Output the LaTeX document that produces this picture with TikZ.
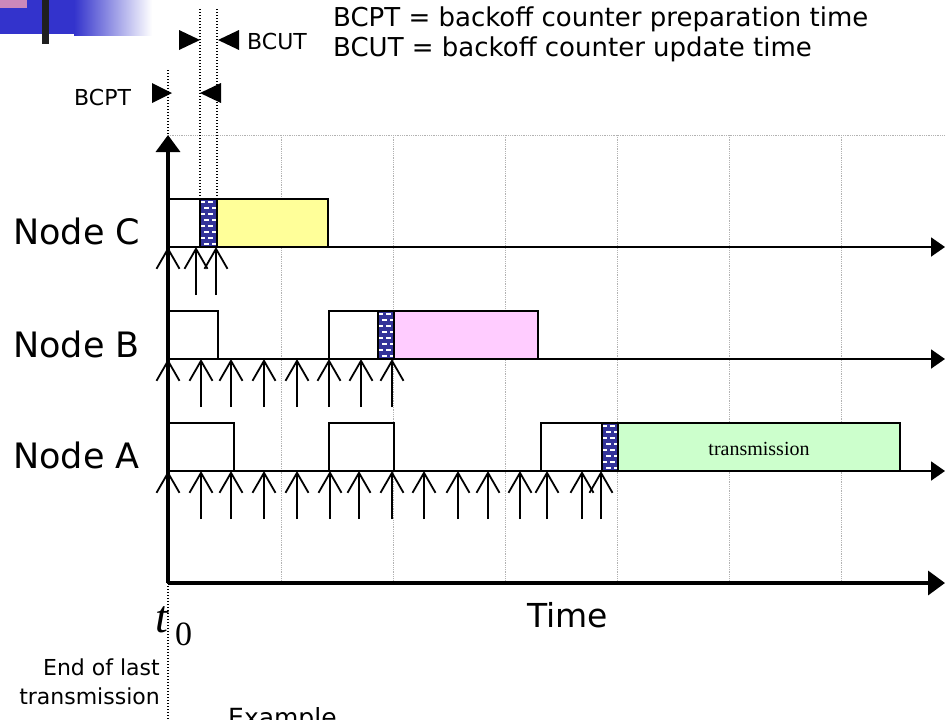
\documentclass[tikz,border=0pt]{standalone}
\usepackage{fontspec}
\setmainfont{DejaVu Sans}
\newfontfamily\serifface{Liberation Serif}
\usetikzlibrary{arrows.meta}
\definecolor{hatchblue}{HTML}{333399}
\definecolor{boxyellow}{HTML}{FFFF99}
\definecolor{boxpink}{HTML}{FFCCFF}
\definecolor{boxgreen}{HTML}{CCFFCC}
\definecolor{titleblue}{HTML}{3333CC}
\definecolor{titlepink}{HTML}{CC88BB}
\newcommand{\hatchrect}[4]{%
  \fill[hatchblue] (#1,#2) rectangle (#3,#4);
  \begin{scope}
    \clip (#1,#2) rectangle (#3,#4);
    \foreach \r in {0,...,8}{%
      \pgfmathsetmacro\ph{mod(\r,2)*4}
      \draw[white, line width=1.7pt, dash pattern=on 5pt off 3pt, dash phase=\ph pt]
        (#1,#2+3+\r*6) -- (#3,#2+3+\r*6);
    }
  \end{scope}
  \draw[line width=1.8pt] (#1,#2) rectangle (#3,#4);
}
\begin{document}
\begin{tikzpicture}[x=1pt,y=-1pt,
  gridline/.style={gray!60, line width=0.8pt, densely dotted},
  guide/.style={black, line width=1.4pt, dash pattern=on 1.4pt off 1.6pt},
  timeline/.style={line width=2pt, -{Triangle[length=14pt,width=19pt]}},
  mainaxis/.style={line width=3.6pt, -{Triangle[length=17pt,width=24pt]}},
  upmark/.style={line width=1.8pt, -{Straight Barb[length=20pt,width=23pt,line width=1.8pt]}},
  slot/.style={draw=black, line width=1.8pt},
  marker/.style={fill=black},
  lbl/.style={font=\fontsize{35}{40}\selectfont, inner sep=0pt, anchor=base west},
  small/.style={font=\fontsize{22}{26}\selectfont, inner sep=0pt, anchor=base west},
  header/.style={font=\fontsize{26}{30}\selectfont, inner sep=0pt, anchor=base west},
]
\useasboundingbox (0,0) rectangle (945,720);

% title decoration
\fill[titleblue] (0,0) rectangle (74,34);
\shade[left color=titleblue, right color=white] (74,0) rectangle (152,35);
\fill[titlepink] (0,0) rectangle (27,8);
\fill[black!88] (42,0) rectangle (49,44);

% grid
\coordinate (O) at (168,583);
\coordinate (Ytop) at (168,135);
\coordinate (Xend) at (945,583);
\draw[gridline] (Ytop) -- (945,135);
\foreach \gx in {281,393,505,617,729,841}{
  \draw[gridline] (\gx,135) -- (\gx,583);
}

% guides
\draw[guide] (168,70) -- (168,720);
\draw[guide] (200,9) -- (200,199);
\draw[guide] (217,9) -- (217,199);

% Node C boxes
\draw[slot, fill=white] (168,199) rectangle (200,247);
\hatchrect{200}{199}{217}{247}
\draw[slot, fill=boxyellow] (217,199) rectangle (328,247);

% Node B boxes
\draw[slot, fill=white] (168,311) rectangle (218,359);
\draw[slot, fill=white] (329,311) rectangle (378,359);
\hatchrect{378}{311}{394}{359}
\draw[slot, fill=boxpink] (394,311) rectangle (538,359);

% Node A boxes
\draw[slot, fill=white] (168,423) rectangle (234,471);
\draw[slot, fill=white] (329,423) rectangle (394,471);
\draw[slot, fill=white] (541,423) rectangle (602,471);
\hatchrect{602}{423}{618}{471}
\draw[slot, fill=boxgreen] (618,423) rectangle (900,471);
\node[font=\serifface\fontsize{20}{24}\selectfont] (tx) at (759,449) {transmission};

% timelines
\coordinate (C0) at (168,247); \coordinate (C1) at (945,247);
\coordinate (B0) at (168,359); \coordinate (B1) at (945,359);
\coordinate (A0) at (168,471); \coordinate (A1) at (945,471);
\draw[timeline] (C0) -- (C1);
\draw[timeline] (B0) -- (B1);
\draw[timeline] (A0) -- (A1);

% axes
\draw[mainaxis] (O) -- (Xend);
\draw[mainaxis] (O) -- (Ytop);

% up marks
\foreach \ux in {168,196,216}{ \draw[upmark] (\ux,295) -- (\ux,247); }
\foreach \ux in {168,201,231,264,297,329,361,392}{ \draw[upmark] (\ux,407) -- (\ux,359); }
\foreach \ux in {168,201,231,264,297,330,359,392,424,458,488,520,547,582,601}{ \draw[upmark] (\ux,519) -- (\ux,471); }

% BCPT / BCUT markers
\fill[marker] (152,83) -- (152,103) -- (172,93) -- cycle;
\fill[marker] (221,83) -- (221,103) -- (200,93) -- cycle;
\fill[marker] (179,30) -- (179,50) -- (200,40) -- cycle;
\fill[marker] (239,30) -- (239,50) -- (218,40) -- cycle;
\node[small] (bcpt) at (74,105) {BCPT};
\node[small] (bcut) at (247,49) {BCUT};

% header
\node[header] (h1) at (333,27) {BCPT = backoff counter preparation time};
\node[header] (h2) at (333,56) {BCUT = backoff counter update time};

% node labels
\node[lbl] (nc) at (13,244) {Node C};
\node[lbl] (nb) at (13,357) {Node B};
\node[lbl] (na) at (13,468) {Node A};

% bottom labels
\node[font=\serifface\itshape\fontsize{46}{50}\selectfont, inner sep=0pt, anchor=base west] (t) at (155,632) {t};
\node[font=\serifface\fontsize{34}{38}\selectfont, inner sep=0pt, anchor=base west] (tsub) at (175,645) {0};
\node[font=\fontsize{33}{38}\selectfont, inner sep=0pt, anchor=base west] (time) at (527,627) {Time};
\node[small, anchor=base east] (end1) at (160,675) {End of last};
\node[small, anchor=base east] (end2) at (160,704) {transmission};
\node[font=\fontsize{25}{30}\selectfont, inner sep=0pt, anchor=base west] (ex) at (228,726) {Example};
\end{tikzpicture}
\end{document}
